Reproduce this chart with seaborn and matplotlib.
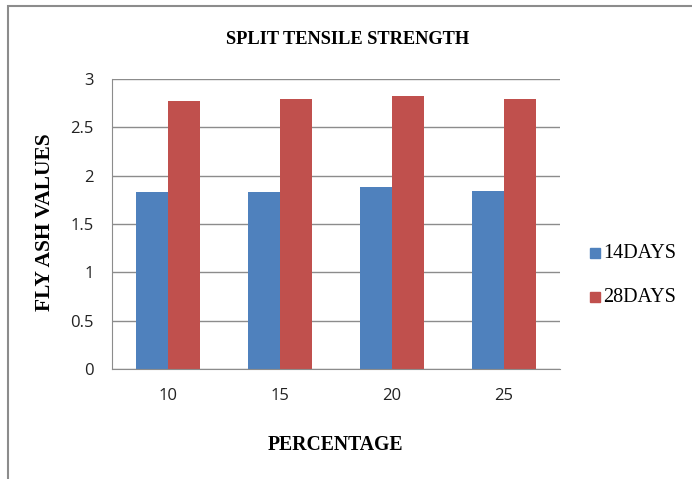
import pandas as pd
import seaborn as sns
from matplotlib import pyplot as plt
from matplotlib.patches import Rectangle

## Data
percentages = ['10', '15', '20', '25']
days_14 = [1.83, 1.83, 1.88, 1.84]
days_28 = [2.77, 2.79, 2.82, 2.79]
series_names = ['14DAYS', '28DAYS']
colours = ['#4F81BD', '#C0504D']

df = pd.DataFrame({'percentage': percentages * 2,
                   'value': days_14 + days_28,
                   'series': [series_names[0]] * 4 + [series_names[1]] * 4})

## Plot
sns.set_style('white')
fig = plt.figure(figsize=(6.92, 4.79), dpi=100)
ax = fig.add_axes([112 / 692, 1 - 369 / 479, 448 / 692, 290 / 479])

sns.barplot(data=df, x='percentage', y='value', hue='series', palette=colours,
            width=0.57, saturation=1, linewidth=0, ax=ax, legend=False)

ax.set_ylim(0, 3)
ax.set_yticks([0, 0.5, 1, 1.5, 2, 2.5, 3])
ax.set_yticklabels(['0', '0.5', '1', '1.5', '2', '2.5', '3'])
ax.yaxis.grid(True, color='#8c8c8c', linewidth=1)
ax.set_axisbelow(True)
for side in ['top', 'right']:
    ax.spines[side].set_visible(False)
for side in ['left', 'bottom']:
    ax.spines[side].set_color('#8c8c8c')
ax.tick_params(axis='y', length=4, color='#8c8c8c', labelsize=12, pad=9, labelcolor='#222222')
ax.tick_params(axis='x', length=0, labelsize=12, pad=14, labelcolor='#222222')
for lab in ax.get_xticklabels() + ax.get_yticklabels():
    lab.set_family('Open Sans')
ax.set_xlabel('')
ax.set_ylabel('')

serif = 'Liberation Serif'
fig.text(348 / 692, 1 - 40 / 479, 'SPLIT TENSILE STRENGTH', ha='center', va='center',
         fontsize=13.2, fontweight='bold', family=serif, color='black')
fig.text(335 / 692, 1 - 445 / 479, 'PERCENTAGE', ha='center', va='center',
         fontsize=14.2, fontweight='bold', family=serif, color='black')
fig.text(45 / 692, 1 - 222 / 479, 'FLY ASH VALUES', ha='center', va='center',
         rotation=90, fontsize=15.5, fontweight='bold', family=serif, color='black')

# legend
for i, name in enumerate(series_names):
    y = 1 - (253 + 44 * i) / 479
    fig.patches.append(Rectangle((590 / 692, y - 5 / 479), 10 / 692, 10 / 479,
                                 transform=fig.transFigure, color=colours[i]))
    fig.text(603 / 692, y, name, ha='left', va='center', fontsize=14.5, family=serif,
             color='black')

# chart border
fig.patches.append(Rectangle((8 / 692, -0.1), 1.2, 1 - 6 / 479 + 0.1, transform=fig.transFigure,
                             fill=False, edgecolor='#8c8c8c', linewidth=1.5))

fig.savefig('out.png', dpi=100)
